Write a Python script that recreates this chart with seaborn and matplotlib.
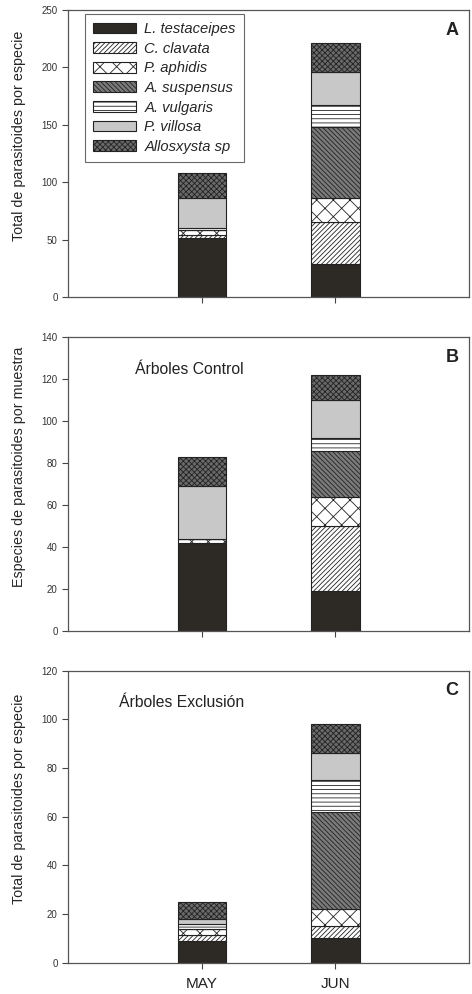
import numpy as np
import matplotlib
matplotlib.use("Agg")
import matplotlib.pyplot as plt
import seaborn as sns
from matplotlib.patches import Patch

# data
months = ["MAY", "JUN"]
species = ["L. testaceipes", "C. clavata", "P. aphidis", "A. suspensus",
           "A. vulgaris", "P. villosa", "Allosxysta sp"]

panel_a = {  # total por especie
    "L. testaceipes": [51, 29],
    "C. clavata": [3, 36],
    "P. aphidis": [4, 21],
    "A. suspensus": [0, 62],
    "A. vulgaris": [2, 19],
    "P. villosa": [26, 29],
    "Allosxysta sp": [22, 25],
}
panel_b = {  # arboles control
    "L. testaceipes": [42, 19],
    "C. clavata": [0, 31],
    "P. aphidis": [2, 14],
    "A. suspensus": [0, 22],
    "A. vulgaris": [0, 6],
    "P. villosa": [25, 18],
    "Allosxysta sp": [14, 12],
}
panel_c = {  # arboles exclusion
    "L. testaceipes": [9, 10],
    "C. clavata": [2.5, 5],
    "P. aphidis": [2.5, 7],
    "A. suspensus": [0, 40],
    "A. vulgaris": [2, 13],
    "P. villosa": [2, 11],
    "Allosxysta sp": [7, 12],
}

# fill colour and hatch for each species
styles = {
    "L. testaceipes": ("#2d2a26", ""),
    "C. clavata": ("white", "///////"),
    "P. aphidis": ("white", "xx"),
    "A. suspensus": ("#7a7a7a", "\\\\\\\\\\\\\\"),
    "A. vulgaris": ("white", "----"),
    "P. villosa": ("#c8c8c8", ""),
    "Allosxysta sp": ("#6a6a6a", "xxxxxx"),
}

sns.set_style("white")
plt.rcParams["font.family"] = ["Liberation Sans", "DejaVu Sans"]
plt.rcParams["hatch.linewidth"] = 0.6


def stacked_panel(ax, data, ymax, ystep, ylabel, letter, note=None):
    bottom = np.zeros(len(months))
    for sp in species:
        vals = np.array(data[sp], dtype=float)
        fc, hatch = styles[sp]
        sns.barplot(x=months, y=vals, bottom=bottom, color=fc, saturation=1,
                    hatch=hatch, edgecolor="#222222", linewidth=0.8,
                    width=0.36, errorbar=None, ax=ax)
        bottom += vals

    ax.set_xlim(-1, 2)
    ax.set_ylim(0, ymax)
    ax.set_yticks(np.arange(0, ymax + 1, ystep))
    ax.set_xticks([0, 1])
    ax.set_xticklabels([])
    ax.set_xlabel("")
    ax.set_ylabel(ylabel, fontsize=10.3)
    ax.yaxis.set_label_coords(-0.105, 0.56)
    ax.tick_params(axis="y", labelsize=7, length=4, width=0.8,
                   direction="out", left=True, colors="#444444", labelcolor="#333333")
    ax.tick_params(axis="x", length=4, width=0.8, direction="out", pad=6,
                   bottom=True, colors="#444444", labelcolor="#222222")
    for side in ["left", "bottom", "top", "right"]:
        ax.spines[side].set_visible(True)
        ax.spines[side].set_color("#555555")
        ax.spines[side].set_linewidth(0.9)

    ax.text(0.973, 0.96, letter, transform=ax.transAxes, ha="right", va="top",
            fontsize=13, fontweight="bold", color="#222222")
    if note:
        ax.text(note[0], note[1], note[2], transform=ax.transAxes,
                ha="left", va="center", fontsize=11.3, color="#222222")


fig = plt.figure(figsize=(4.72, 9.94), dpi=100)
ax_a = fig.add_axes([0.144, 0.7012, 0.850, 0.2887])
ax_b = fig.add_axes([0.144, 0.3652, 0.850, 0.2953])
ax_c = fig.add_axes([0.144, 0.0315, 0.850, 0.2938])

stacked_panel(ax_a, panel_a, 250, 50, "Total de parasitoides por especie", "A")
stacked_panel(ax_b, panel_b, 140, 20, "Especies de parasitoides por muestra", "B",
              note=(0.167, 0.89, "Árboles Control"))
stacked_panel(ax_c, panel_c, 120, 20, "Total de parasitoides por especie", "C",
              note=(0.127, 0.89, "Árboles Exclusión"))
ax_c.set_xticklabels(months, fontsize=11)

handles = [Patch(facecolor=styles[sp][0], hatch=styles[sp][1],
                 edgecolor="#222222", linewidth=0.8, label=sp) for sp in species]
leg = ax_a.legend(handles=handles, loc="upper left", bbox_to_anchor=(0.042, 0.986),
                  borderaxespad=0, prop={"style": "italic", "size": 10.6},
                  frameon=True, fancybox=False, edgecolor="#444444",
                  handlelength=2.9, handleheight=0.75, labelspacing=0.38,
                  borderpad=0.55, handletextpad=0.6)
leg.get_frame().set_linewidth(0.8)

fig.savefig("out.png", dpi=100)
